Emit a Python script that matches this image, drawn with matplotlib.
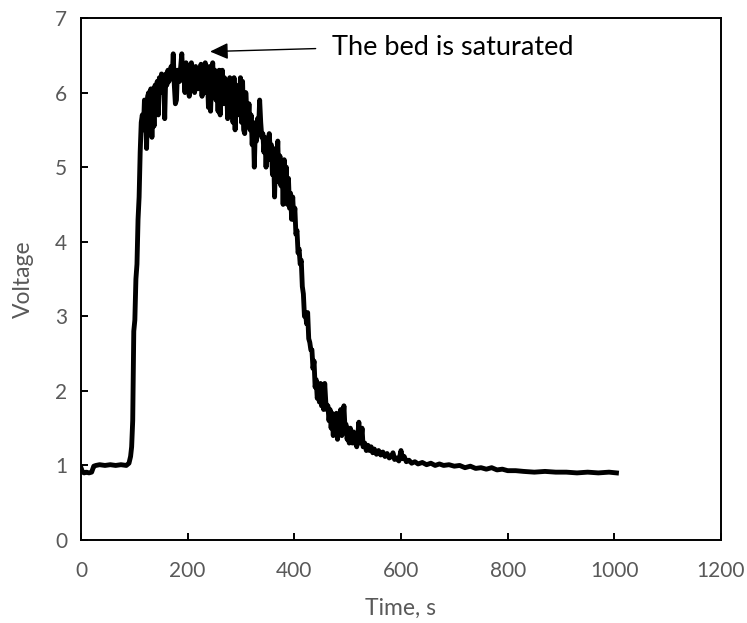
import matplotlib
matplotlib.use("Agg")
import matplotlib.pyplot as plt

# baseline before breakthrough
t_base = [0, 3, 6, 10, 15, 20, 24, 28, 35, 45, 55, 65, 75, 85, 90, 93, 95]
v_base = [0.97, 0.91, 0.90, 0.91, 0.90, 0.91, 0.99, 1.00, 1.01, 1.00, 1.01, 1.00, 1.01, 1.00, 1.03, 1.12, 1.25]

# steep rise
t_rise = [97, 99, 101, 103, 105, 107, 109, 111, 113]
v_rise = [1.6, 2.8, 2.95, 3.5, 3.7, 4.3, 4.6, 5.2, 5.6]

# saturated plateau (noisy), one value every 2 s from 115 s
t_plat0 = 115
v_plat = [5.7, 5.5, 5.9, 5.75, 5.25, 5.95, 6.0, 5.6, 6.05, 5.4,
          6.05, 5.55, 6.1, 5.9, 6.15, 5.7, 6.2, 6.0, 6.25, 6.0,
          6.2, 5.65, 6.25, 6.1, 6.3, 6.15, 6.2, 6.35, 6.2, 6.52,
          6.1, 5.85, 5.9, 6.3, 6.2, 6.15, 6.35, 6.52, 6.2, 6.25,
          6.0, 6.4, 6.1, 6.35, 5.95, 6.2, 6.4, 6.05, 6.3, 6.0,
          6.35, 6.2, 6.05, 6.3, 6.1, 6.38, 5.95, 6.35, 6.2, 6.4,
          6.0, 6.25, 5.8, 6.35, 5.75, 6.2, 6.4, 6.05, 6.3, 5.9,
          6.2, 5.75, 6.3, 5.7, 6.15, 6.3, 5.85, 6.2, 6.0, 6.1,
          5.65, 6.05, 6.2, 5.85, 6.05, 5.6, 6.2, 5.5, 6.1, 5.8,
          6.0, 5.7, 6.2, 5.6, 6.15, 5.5, 5.45, 6.0, 5.75, 5.6,
          5.85, 5.5, 5.7, 5.3, 5.6, 5.0, 5.55, 5.35, 5.65, 5.5,
          5.9, 5.6, 5.4, 5.45, 5.2, 5.4, 5.0, 5.35, 5.1, 5.45,
          5.2, 5.3, 4.9, 5.25, 4.6, 5.2, 5.0, 5.35, 4.8, 5.15,
          4.75, 5.05, 4.5, 5.1, 4.7, 5.0, 4.5, 4.85, 4.45, 4.65,
          4.3, 4.6, 4.3, 4.45, 4.1, 4.15, 3.85, 3.9, 3.7, 3.75,
          3.4, 3.3, 3.0, 3.05, 2.9, 3.05, 2.7, 2.65, 2.55, 2.55,
          2.3, 2.4, 2.05, 2.15, 1.9, 2.0, 1.85, 2.1, 1.8, 1.9,
          1.75, 2.1, 1.85, 1.75, 1.8, 1.6, 1.75, 1.5, 1.7, 1.4,
          1.65, 1.45, 1.7, 1.35, 1.6, 1.5, 1.75, 1.4, 1.6, 1.8,
          1.5, 1.55, 1.35, 1.45, 1.3, 1.5, 1.4, 1.3, 1.45, 1.3,
          1.35, 1.25, 1.4, 1.58, 1.3, 1.35, 1.5, 1.25]

# slow tail
t_tail = [532, 535, 538, 541, 544, 547, 550, 554, 558, 562, 566, 570, 574, 578,
          582, 585, 588, 592, 596, 600, 603, 606, 610, 615, 620, 626, 632, 640,
          648, 656, 664, 672, 680, 690, 700, 710, 720, 730, 740, 750, 760, 770,
          780, 790, 800, 815, 830, 850, 870, 890, 910, 930, 950, 970, 990, 1004]
v_tail = [1.3, 1.2, 1.27, 1.2, 1.25, 1.17, 1.22, 1.15, 1.2, 1.14, 1.18, 1.12, 1.16, 1.1,
          1.12, 1.17, 1.08, 1.1, 1.06, 1.2, 1.09, 1.12, 1.05, 1.07, 1.03, 1.05, 1.02, 1.04,
          1.01, 1.03, 1.0, 1.02, 1.0, 1.01, 0.99, 1.0, 0.97, 0.99, 0.96, 0.97, 0.95, 0.97,
          0.94, 0.95, 0.93, 0.93, 0.92, 0.91, 0.92, 0.91, 0.91, 0.90, 0.91, 0.90, 0.91, 0.90]

t_plat = [t_plat0 + 2 * i for i in range(len(v_plat))]
time = t_base + t_rise + t_plat + t_tail
volt = v_base + v_rise + v_plat + v_tail

gray = "#595959"
plt.rcParams["font.family"] = ["Lato", "DejaVu Sans"]

fig = plt.figure(figsize=(7.47, 6.23), dpi=100)
ax = fig.add_axes([0.1084, 0.1332, 0.8568, 0.8379])

ax.plot(time, volt, color="black", lw=3.5, solid_joinstyle="round")

ax.set_xlim(0, 1200)
ax.set_ylim(0, 7)
ax.set_xticks(range(0, 1201, 200))
ax.set_yticks(range(0, 8))

for s in ax.spines.values():
    s.set_linewidth(1.4)
    s.set_color("black")
ax.tick_params(direction="in", length=5, width=1.4, labelsize=15, labelcolor=gray)
ax.tick_params(axis="x", pad=15)
ax.tick_params(axis="y", pad=10)

ax.set_xlabel("Time, s", fontsize=16.5, color=gray, labelpad=12)
ax.set_ylabel("Voltage", fontsize=16.5, color=gray, labelpad=15)

ax.annotate("", xy=(242, 6.55), xytext=(440, 6.59),
            arrowprops=dict(arrowstyle="-|>,head_length=1.1,head_width=0.5",
                            color="black", lw=1, shrinkA=0, shrinkB=0))
ax.text(471, 6.6, "The bed is saturated", fontsize=19.5, color="black",
        va="center", ha="left")

fig.savefig("out.png", dpi=100)
